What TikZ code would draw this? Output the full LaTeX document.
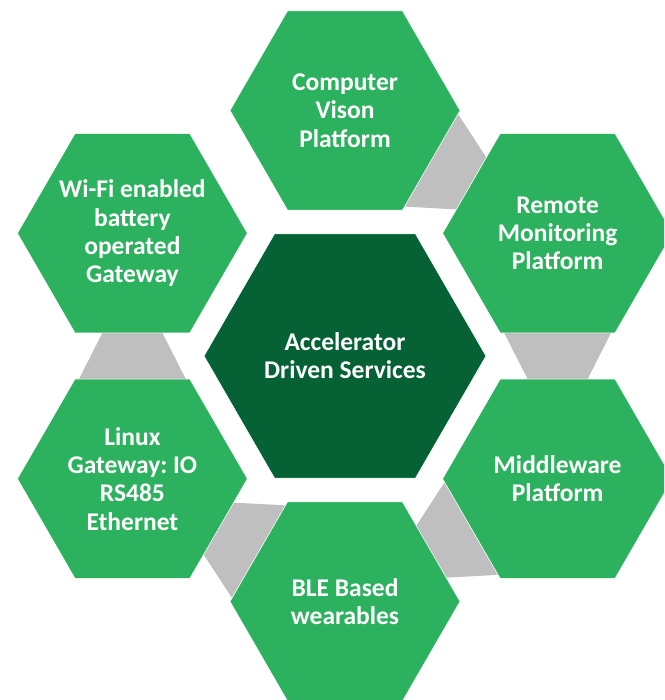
\documentclass[tikz,border=0pt]{standalone}
\usepackage{fontspec}
\setmainfont{Carlito}
\usetikzlibrary{shapes.geometric,calc,backgrounds}
\definecolor{hexgreen}{RGB}{44,178,94}
\definecolor{hubgreen}{RGB}{6,98,52}
\definecolor{linkgrey}{RGB}{191,191,191}
\frenchspacing

\begin{document}
\begin{tikzpicture}[x=1pt,y=1pt]
\tikzstyle{hex}=[regular polygon,regular polygon sides=6,minimum size=230pt,inner sep=0,outer sep=0,fill=hexgreen,draw=white,line width=0.6pt]
\tikzstyle{hub}=[hex,minimum size=282pt,fill=hubgreen]
\tikzstyle{txt}=[text=white,align=center,font=\fontsize{25.5}{28.3}\selectfont\bfseries]
\tikzstyle{link}=[fill=linkgrey]

    \useasboundingbox (0,0) rectangle (664,700);
    \clip (0,0) rectangle (664,700);

    \node[hub, label={[txt]center:{Accelerator\\Driven Services}}] (ads) at (345,344){};
    \node[hex, label={[txt]center:{Computer\\Vison\\Platform}}] (cv) at (345,589.5){};
    \node[hex, label={[txt]center:{Remote\\Monitoring\\Platform}}] (rm) at (557.6,466.75){};
    \node[hex, label={[txt]center:{Middleware\\Platform}}] (mw) at (557.6,221.25){};
    \node[hex, label={[txt]center:{BLE Based\\wearables}}] (ble) at (345,98.5){};
    \node[hex, label={[txt]center:{Linux\\Gateway: IO\\RS485\\Ethernet}}] (lg) at (132.4,221.25){};
    \node[hex, label={[txt]center:{Wi-Fi enabled\\battery\\operated\\Gateway}}] (wf) at (132.4,466.75){};

    % grey links, clockwise, wide end on the first hexagon
    \begin{scope}[on background layer]
    \foreach \a/\b in {cv/rm,rm/mw,mw/ble,ble/lg,lg/wf}
        \fill[link] ($(\a)!94pt!(\b)!56.3pt!90:(\b)$) -- ($(\a)!151pt!(\b)!27.4pt!90:(\b)$)
            -- ($(\a)!151pt!(\b)!27.4pt!-90:(\b)$) -- ($(\a)!94pt!(\b)!56.3pt!-90:(\b)$) -- cycle;
    \end{scope}

\end{tikzpicture}
\end{document}
